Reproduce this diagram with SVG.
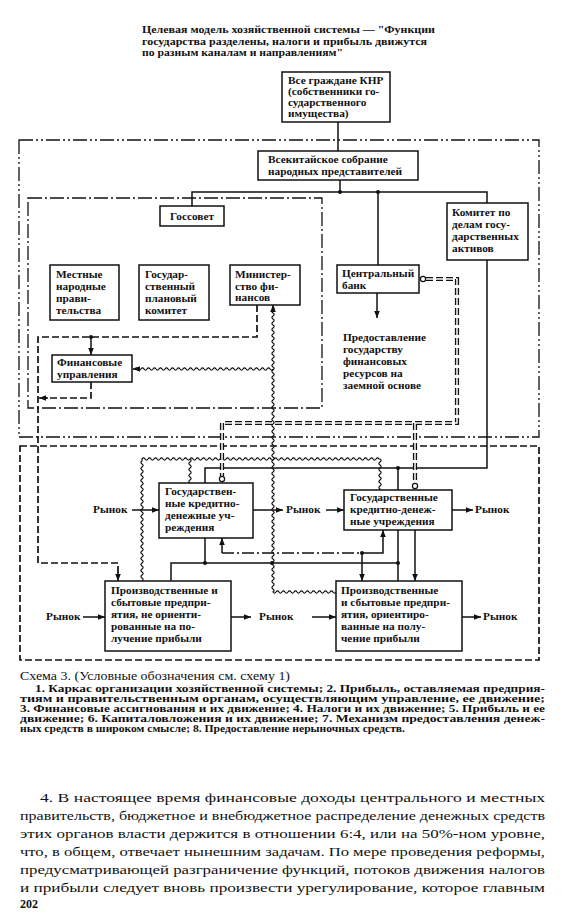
<svg xmlns="http://www.w3.org/2000/svg" width="563" height="917" viewBox="0 0 563 917">
<defs>
<style>
text{font-family:"Liberation Serif","Times New Roman",serif;fill:#111}
.bt{font-size:11.3px;font-weight:bold}
.ti{font-size:10.5px;font-weight:bold}
.cap{font-size:11.5px}
.lg{font-size:9.3px;font-weight:bold}
.par{font-size:13.5px}
.box{fill:#fff;stroke:#111;stroke-width:1.5}
.ln{fill:none;stroke:#111;stroke-width:1.5}
.fo{fill:none;stroke:#111;stroke-width:1.3;stroke-dasharray:14 3 2 3 2 3}
.fi{fill:none;stroke:#111;stroke-width:1.3;stroke-dasharray:14 3 2 3}
.da{fill:none;stroke:#111;stroke-width:1.7;stroke-dasharray:7 3}
.dd{fill:none;stroke:#111;stroke-width:1.4;stroke-dasharray:12 3 2 3}
.wv{fill:none;stroke:#111;stroke-width:1.2}
.dbo{fill:none;stroke:#111;stroke-width:4.2;stroke-dasharray:7 3}
.dbi{fill:none;stroke:#fff;stroke-width:1.5;stroke-dasharray:7 3}
.oc{fill:#fff;stroke:#111;stroke-width:1.2}
.dot{fill:#111}
</style>
<marker id="ar" viewBox="0 0 10 10" refX="10" refY="5" markerWidth="7" markerHeight="7" orient="auto" markerUnits="userSpaceOnUse"><path d="M0,1 L10,5 L0,9 z" fill="#111"/></marker>
</defs>
<rect width="563" height="917" fill="#fff"/>

<g id="title">
<text class="ti" x="142" y="33" textLength="293" lengthAdjust="spacingAndGlyphs">Целевая модель хозяйственной системы — "Функции</text>
<text class="ti" x="142" y="45" textLength="285" lengthAdjust="spacingAndGlyphs">государства разделены, налоги и прибыль движутся</text>
<text class="ti" x="142" y="56" textLength="201" lengthAdjust="spacingAndGlyphs">по разным каналам и направлениям"</text>
</g>

<g id="frames">
<rect class="fo" x="19" y="140" width="520" height="297"/>
<rect class="fi" x="28" y="198" width="294" height="210"/>
<rect class="da" x="20" y="446" width="519" height="214"/>
</g>

<g id="connectors">
<path class="ln" d="M338,122 V151"/>
<path class="ln" d="M340,180 V192 M192,206 V192 H487 V203 M378,192 V265"/>
<path class="ln" d="M377,293 V318" marker-end="url(#ar)"/>
<path class="da" d="M257,305 V337 H38 V563 H118 V575"/>
<path class="ln" d="M118,572 V581" marker-end="url(#ar)"/>
<path class="ln" d="M91,337 V355" marker-end="url(#ar)"/>
<path class="da" d="M91,382 V398 H46"/>
<path class="ln" d="M48,398 H39" marker-end="url(#ar)"/>
<path class="wv" d="M336,592 q-1.5,2.2 -3,0 t-3,0t-3,0t-3,0t-3,0t-3,0t-3,0t-3,0t-3,0t-3,0t-3,0t-3,0t-3,0t-3,0t-3,0t-3,0t-3,0t-3,0t-3,0t-3,0t-3,0 q2.2,-1.5 0,-3 t0,-3t0,-3t0,-3t0,-3t0,-3t0,-3t0,-3t0,-3t0,-3t0,-3 t0,-3t0,-3t0,-3t0,-3t0,-3t0,-3t0,-3t0,-3t0,-3t0,-3 t0,-3t0,-3t0,-3t0,-3t0,-3t0,-3t0,-3t0,-3t0,-3t0,-3 t0,-3t0,-3t0,-3t0,-3t0,-3t0,-3t0,-3t0,-3t0,-3t0,-3 t0,-3t0,-3t0,-3t0,-3t0,-3t0,-3t0,-3t0,-3t0,-3t0,-3 t0,-3t0,-3t0,-3t0,-3t0,-3t0,-3t0,-3t0,-3t0,-3t0,-3 t0,-3t0,-3t0,-3t0,-3t0,-3t0,-3t0,-3t0,-3t0,-3t0,-3 t0,-3t0,-3t0,-3t0,-3t0,-3t0,-3t0,-3t0,-3t0,-3t0,-3 t0,-3t0,-3t0,-3t0,-3t0,-3t0,-3t0,-3t0,-3t0,-3t0,-3 t0,-3t0,-3t0,-3t0,-3"/>
<path class="ln" d="M273,309 V305" marker-end="url(#ar)"/>
<path class="wv" d="M273,369 q-1.5,2.2 -3,0 t-3,0t-3,0t-3,0t-3,0t-3,0t-3,0t-3,0t-3,0t-3,0t-3,0 t-3,0t-3,0t-3,0t-3,0t-3,0t-3,0t-3,0t-3,0t-3,0t-3,0 t-3,0t-3,0t-3,0t-3,0t-3,0t-3,0t-3,0t-3,0t-3,0t-3,0 t-3,0t-3,0t-3,0t-3,0t-3,0t-3,0t-3,0t-3,0t-3,0t-3,0 t-3,0t-3,0t-3,0t-3,0t-3,0"/>
<path class="ln" d="M137,369 H133" marker-end="url(#ar)"/>
<path class="wv" d="M142,581 q2.2,-1.5 0,-3 t0,-3t0,-3t0,-3t0,-3t0,-3t0,-3t0,-3t0,-3t0,-3t0,-3 t0,-3t0,-3t0,-3t0,-3t0,-3t0,-3t0,-3t0,-3t0,-3t0,-3 t0,-3t0,-3t0,-3t0,-3t0,-3t0,-3t0,-3t0,-3t0,-3t0,-3 t0,-3t0,-3t0,-3t0,-3t0,-3t0,-3t0,-3t0,-3t0,-3 l0,-2 q1.5,-2.2 3,0 t3,0t3,0t3,0t3,0t3,0t3,0t3,0t3,0t3,0t3,0 t3,0t3,0t3,0t3,0t3,0t3,0t3,0t3,0t3,0t3,0 t3,0t3,0t3,0t3,0t3,0t3,0t3,0t3,0t3,0t3,0 t3,0t3,0t3,0t3,0t3,0t3,0t3,0t3,0t3,0t3,0 t3,0t3,0t3,0t3,0t3,0t3,0t3,0t3,0t3,0t3,0 t3,0t3,0t3,0t3,0t3,0t3,0t3,0t3,0t3,0t3,0 t3,0t3,0t3,0t3,0t3,0t3,0t3,0t3,0t3,0t3,0 t3,0t3,0t3,0t3,0t3,0t3,0t3,0t3,0 l1,0 q2.2,1.5 0,3 t0,3t0,3t0,3t0,3t0,3t0,3t0,3t0,3t0,3 l0,1"/>
<path class="wv" d="M190,459 q2.2,1.5 0,3 t0,3t0,3t0,3t0,3t0,3t0,3t0,3"/>
<path class="ln" d="M487,260 V468 H205 V483 M398,468 V490"/>
<path class="ln" d="M205,538 V563 M171,581 V563 H398 M398,530 V581"/>
<path class="ln" d="M415,530 V581" marker-end="url(#ar)"/>
<path class="dd" d="M222,553 H362"/>
<path class="ln" d="M222,553 V538" marker-end="url(#ar)"/>
<path class="ln" d="M362,553 H383 V530" marker-end="url(#ar)"/>
<path class="ln" d="M362,553 V581" marker-end="url(#ar)"/>
<path class="dbo" d="M426,279 H457 V423 H222 V476 M415,423 V483"/>
<path class="dbi" d="M426,279 H457 V423 H222 V476 M415,423 V483"/>
<circle class="oc" cx="423" cy="279" r="2.6"/>
<circle class="oc" cx="222" cy="479" r="2.6"/>
<circle class="oc" cx="415" cy="486" r="2.6"/>
<path class="ln" d="M132,510 H159" marker-end="url(#ar)"/>
<path class="ln" d="M253,510 H283" marker-end="url(#ar)"/>
<path class="ln" d="M326,510 H344" marker-end="url(#ar)"/>
<path class="ln" d="M452,510 H473" marker-end="url(#ar)"/>
<path class="ln" d="M83,617 H105" marker-end="url(#ar)"/>
<path class="ln" d="M231,617 H251" marker-end="url(#ar)"/>
<path class="ln" d="M312,617 H336" marker-end="url(#ar)"/>
<path class="ln" d="M462,617 H481" marker-end="url(#ar)"/>
<circle class="dot" cx="340" cy="192" r="2"/>
<circle class="dot" cx="378" cy="192" r="2"/>
<circle class="dot" cx="398" cy="468" r="2"/>
<circle class="dot" cx="205" cy="563" r="2"/>
<circle class="dot" cx="272" cy="563" r="2"/>
<circle class="dot" cx="398" cy="563" r="2"/>
<circle class="dot" cx="362" cy="553" r="2"/>
<circle class="dot" cx="91" cy="337" r="2"/>
</g>

<g id="n-citizens"><rect class="box" x="282" y="72" width="108" height="50"/>
<text class="bt" x="288" y="84">Все граждане КНР</text>
<text class="bt" x="288" y="95">(собственники го-</text>
<text class="bt" x="288" y="106">сударственного</text>
<text class="bt" x="288" y="117">имущества)</text></g>

<g id="n-npc"><rect class="box" x="258" y="151" width="160" height="29"/>
<text class="bt" x="268" y="163">Всекитайское собрание</text>
<text class="bt" x="268" y="175">народных представителей</text></g>

<g id="n-gossovet"><rect class="box" x="160" y="206" width="64" height="20"/>
<text class="bt" x="192" y="220" text-anchor="middle">Госсовет</text></g>

<g id="n-local"><rect class="box" x="50" y="265" width="69" height="55"/>
<text class="bt" x="56" y="278">Местные</text>
<text class="bt" x="56" y="290">народные</text>
<text class="bt" x="56" y="302">прави-</text>
<text class="bt" x="56" y="314">тельства</text></g>

<g id="n-gosplan"><rect class="box" x="139" y="265" width="70" height="55"/>
<text class="bt" x="145" y="278">Государ-</text>
<text class="bt" x="145" y="290">ственный</text>
<text class="bt" x="145" y="302">плановый</text>
<text class="bt" x="145" y="314">комитет</text></g>

<g id="n-minfin"><rect class="box" x="230" y="265" width="70" height="40"/>
<text class="bt" x="235" y="278">Министер-</text>
<text class="bt" x="235" y="290">ство фи-</text>
<text class="bt" x="235" y="301">нансов</text></g>

<g id="n-cbank"><rect class="box" x="337" y="265" width="82" height="28"/>
<text class="bt" x="342" y="277">Центральный</text>
<text class="bt" x="342" y="289">банк</text></g>

<g id="n-komitet"><rect class="box" x="447" y="203" width="81" height="57"/>
<text class="bt" x="452" y="216">Комитет по</text>
<text class="bt" x="452" y="228">делам госу-</text>
<text class="bt" x="452" y="240">дарственных</text>
<text class="bt" x="452" y="252">активов</text></g>

<g id="n-finupr"><rect class="box" x="52" y="355" width="80" height="27"/>
<text class="bt" x="57" y="366">Финансовые</text>
<text class="bt" x="57" y="378">управления</text></g>

<g id="n-loan">
<text class="bt" x="343" y="341">Предоставление</text>
<text class="bt" x="343" y="353">государству</text>
<text class="bt" x="343" y="365">финансовых</text>
<text class="bt" x="343" y="377">ресурсов на</text>
<text class="bt" x="343" y="389">заемной основе</text></g>

<g id="n-bank1"><rect class="box" x="159" y="483" width="94" height="55"/>
<text class="bt" x="165" y="495">Государствен-</text>
<text class="bt" x="165" y="507">ные кредитно-</text>
<text class="bt" x="165" y="519">денежные уч-</text>
<text class="bt" x="165" y="531">реждения</text></g>

<g id="n-bank2"><rect class="box" x="344" y="490" width="108" height="40"/>
<text class="bt" x="350" y="501">Государственные</text>
<text class="bt" x="350" y="513">кредитно-денеж-</text>
<text class="bt" x="350" y="525">ные учреждения</text></g>

<g id="n-ent1"><rect class="box" x="105" y="581" width="126" height="70"/>
<text class="bt" x="111" y="594">Производственные и</text>
<text class="bt" x="111" y="606">сбытовые предпри-</text>
<text class="bt" x="111" y="618">ятия, не ориенти-</text>
<text class="bt" x="111" y="630">рованные на по-</text>
<text class="bt" x="111" y="642">лучение прибыли</text></g>

<g id="n-ent2"><rect class="box" x="336" y="581" width="126" height="70"/>
<text class="bt" x="341" y="594">Производственные</text>
<text class="bt" x="341" y="606">и сбытовые предпри-</text>
<text class="bt" x="341" y="618">ятия, ориентиро-</text>
<text class="bt" x="341" y="630">ванные на полу-</text>
<text class="bt" x="341" y="642">чение прибыли</text></g>

<g id="markets">
<text class="bt" x="93" y="513">Рынок</text>
<text class="bt" x="286" y="513">Рынок</text>
<text class="bt" x="475" y="513">Рынок</text>
<text class="bt" x="46" y="620">Рынок</text>
<text class="bt" x="259" y="620">Рынок</text>
<text class="bt" x="483" y="620">Рынок</text>
</g>

<g id="caption">
<text class="cap" x="20" y="680" textLength="270" lengthAdjust="spacingAndGlyphs">Схема 3. (Условные обозначения см. схему 1)</text>
<text class="lg" x="35" y="692" textLength="510" lengthAdjust="spacingAndGlyphs">1. Каркас организации хозяйственной системы; 2. Прибыль, оставляемая предприя-</text>
<text class="lg" x="20" y="702" textLength="525" lengthAdjust="spacingAndGlyphs">тиям и правительственным органам, осуществляющим управление, ее движение;</text>
<text class="lg" x="20" y="712" textLength="525" lengthAdjust="spacingAndGlyphs">3. Финансовые ассигнования и их движение; 4. Налоги и их движение; 5. Прибыль и ее</text>
<text class="lg" x="20" y="722" textLength="525" lengthAdjust="spacingAndGlyphs">движение; 6. Капиталовложения и их движение; 7. Механизм предоставления денеж-</text>
<text class="lg" x="20" y="732" textLength="385" lengthAdjust="spacingAndGlyphs">ных средств в широком смысле; 8. Предоставление нерыночных средств.</text>
</g>

<g id="paragraph">
<text class="par" x="40" y="802" textLength="505" lengthAdjust="spacingAndGlyphs">4. В настоящее время финансовые доходы центрального и местных</text>
<text class="par" x="20" y="820" textLength="525" lengthAdjust="spacingAndGlyphs">правительств, бюджетное и внебюджетное распределение денежных средств</text>
<text class="par" x="20" y="838" textLength="525" lengthAdjust="spacingAndGlyphs">этих органов власти держится в отношении 6:4, или на 50%-ном уровне,</text>
<text class="par" x="20" y="856" textLength="525" lengthAdjust="spacingAndGlyphs">что, в общем, отвечает нынешним задачам. По мере проведения реформы,</text>
<text class="par" x="20" y="874" textLength="525" lengthAdjust="spacingAndGlyphs">предусматривающей разграничение функций, потоков движения налогов</text>
<text class="par" x="20" y="892" textLength="525" lengthAdjust="spacingAndGlyphs">и прибыли следует вновь произвести урегулирование, которое главным</text>
<text x="20" y="908" style="font-size:12px;font-weight:bold">202</text>
</g>
</svg>
